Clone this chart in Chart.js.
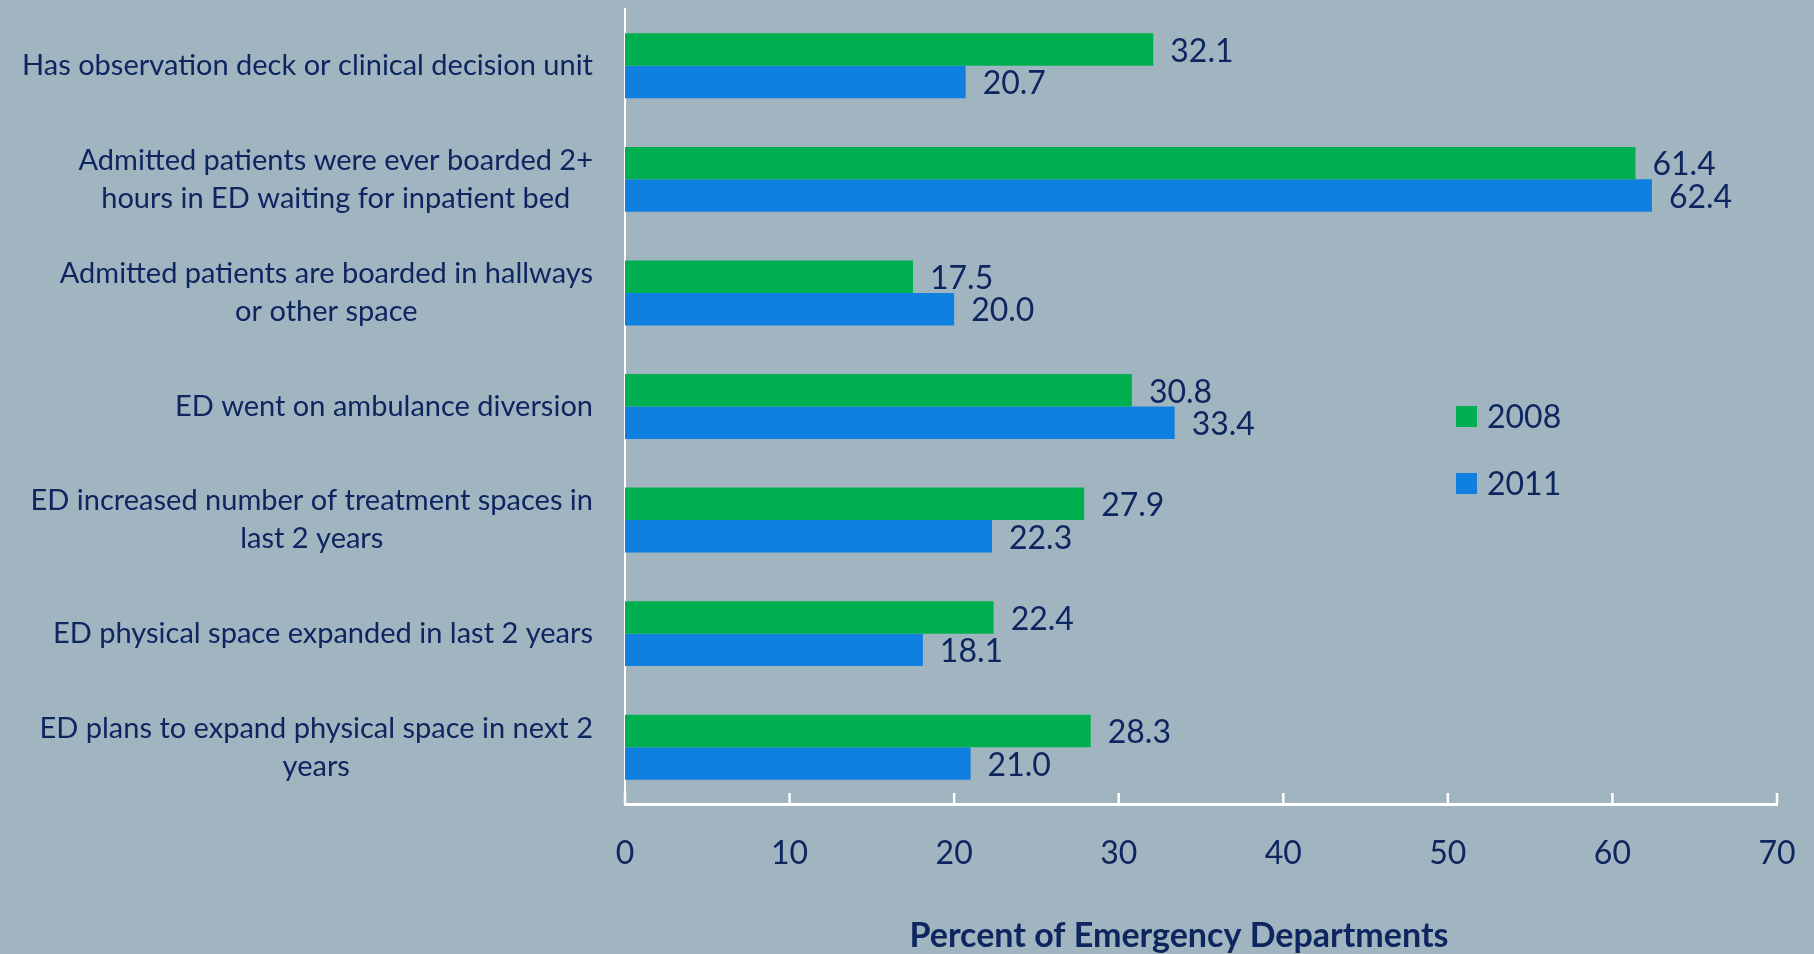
<!DOCTYPE html>
<html>
<head>
<meta charset="utf-8">
<script src="https://cdn.jsdelivr.net/npm/chart.js@4/dist/chart.umd.min.js"></script>
<style>
  html, body { margin: 0; padding: 0; background: #A1B5C1; }
  #wrap { width: 1814px; height: 954px; }
</style>
</head>
<body>
<div id="wrap"><canvas id="c" width="1814" height="954"></canvas></div>
<script>
const categories = [
  ["Has observation deck or clinical decision unit"],
  ["Admitted patients were ever boarded 2+", "hours in ED waiting for inpatient bed"],
  ["Admitted patients are boarded in hallways", "or other space"],
  ["ED went on ambulance diversion"],
  ["ED increased number of treatment spaces in", "last 2 years"],
  ["ED physical space expanded in last 2 years"],
  ["ED plans to expand physical space in next 2", "years"]
];
const seriesNames = ["2008", "2011"];
const values2008 = [32.1, 61.4, 17.5, 30.8, 27.9, 22.4, 28.3];
const values2011 = [20.7, 62.4, 20.0, 33.4, 22.3, 18.1, 21.0];
const xMin = 0, xMax = 70, xStep = 10;
const axisTitle = "Percent of Emergency Departments";

const NAVY = "#0E2660";
const GREEN = "#00B050";
const BLUE = "#0F80DF";
const FONT = "Lato";

const yLabelPlugin = {
  id: "yLabels",
  afterDraw(chart) {
    const ctx = chart.ctx;
    const ys = chart.scales.y;
    const right = 593;
    const lh = 38;
    ctx.save();
    ctx.fillStyle = NAVY;
    ctx.font = "29px " + FONT;
    ctx.textBaseline = "middle";
    ctx.textAlign = "center";
    chart.data.labels.forEach((lines, i) => {
      const y = ys.getPixelForValue(i);
      const maxW = Math.max(...lines.map(l => ctx.measureText(l).width));
      const cx = right - maxW / 2;
      lines.forEach((l, j) => {
        ctx.fillText(l, cx, y + (j - (lines.length - 1) / 2) * lh);
      });
    });
    ctx.restore();
  }
};

const valueLabelPlugin = {
  id: "valueLabels",
  afterDatasetsDraw(chart) {
    const ctx = chart.ctx;
    ctx.save();
    ctx.fillStyle = NAVY;
    ctx.font = "32px " + FONT;
    ctx.textBaseline = "middle";
    ctx.textAlign = "left";
    chart.data.datasets.forEach((ds, di) => {
      chart.getDatasetMeta(di).data.forEach((bar, i) => {
        ctx.fillText(ds.data[i].toFixed(1), bar.x + 17, bar.y + 2);
      });
    });
    ctx.restore();
  }
};

const axisTicksPlugin = {
  id: "axisTicks",
  afterDraw(chart) {
    const ctx = chart.ctx;
    const xs = chart.scales.x;
    const bottom = chart.chartArea.bottom;
    ctx.save();
    ctx.strokeStyle = "#FFFFFF";
    ctx.lineWidth = 2.5;
    xs.ticks.forEach(t => {
      const x = xs.getPixelForValue(t.value);
      ctx.beginPath();
      ctx.moveTo(x, bottom - 11);
      ctx.lineTo(x, bottom);
      ctx.stroke();
    });
    // axis title
    ctx.fillStyle = NAVY;
    ctx.font = "bold 34px " + FONT;
    ctx.textAlign = "center";
    ctx.textBaseline = "middle";
    const ca = chart.chartArea;
    ctx.fillText(axisTitle, (ca.left + ca.right) / 2 - 22, 936);
    ctx.restore();
  }
};

const legendPlugin = {
  id: "customLegend",
  afterDraw(chart) {
    const ctx = chart.ctx;
    const x0 = 1456, y0 = 416.5, gap = 67, sq = 21;
    ctx.save();
    ctx.font = "32px " + FONT;
    ctx.textBaseline = "middle";
    ctx.textAlign = "left";
    chart.data.datasets.forEach((ds, i) => {
      const y = y0 + i * gap;
      ctx.fillStyle = ds.backgroundColor;
      ctx.fillRect(x0, y - sq / 2, sq, sq);
      ctx.fillStyle = NAVY;
      ctx.fillText(ds.label, x0 + 31, y + 1);
    });
    ctx.restore();
  }
};

new Chart(document.getElementById("c"), {
  type: "bar",
  data: {
    labels: categories,
    datasets: [
      { label: seriesNames[0], data: values2008, backgroundColor: GREEN },
      { label: seriesNames[1], data: values2011, backgroundColor: BLUE }
    ]
  },
  options: {
    indexAxis: "y",
    responsive: false,
    animation: false,
    layout: { padding: { top: 9, right: 37, left: 0, bottom: 0 } },
    datasets: { bar: { categoryPercentage: 0.572, barPercentage: 1.0, borderWidth: 0 } },
    plugins: { legend: { display: false }, tooltip: { enabled: false } },
    scales: {
      x: {
        position: "bottom",
        min: xMin, max: xMax,
        ticks: { stepSize: xStep, color: NAVY, font: { family: FONT, size: 32 }, padding: 30, maxRotation: 0 },
        grid: { display: false, drawTicks: false },
        border: { display: true, color: "#FFFFFF", width: 3 },
        title: { display: false, text: axisTitle },
        afterFit(scale) { scale.height = 150; scale.paddingLeft = 0; scale.paddingRight = 0; }
      },
      y: {
        position: "left",
        ticks: { display: false },
        grid: { display: false, drawTicks: false },
        border: { display: true, color: "#FFFFFF", width: 2 },
        afterFit(scale) { scale.width = 625; }
      }
    }
  },
  plugins: [yLabelPlugin, valueLabelPlugin, axisTicksPlugin, legendPlugin]
});
</script>
</body>
</html>
